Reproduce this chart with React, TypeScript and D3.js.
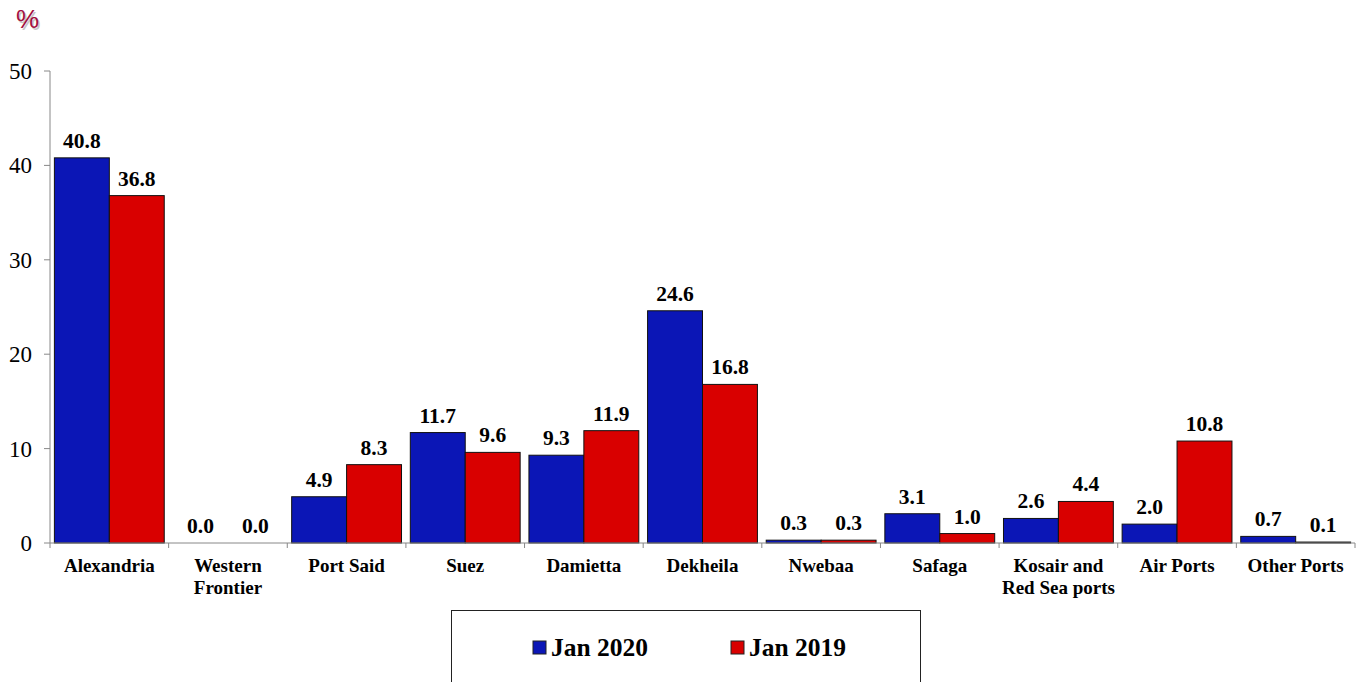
import React from "react";
import * as d3 from "d3";

const categories = [
  ["Alexandria"],
  ["Western", "Frontier"],
  ["Port Said"],
  ["Suez"],
  ["Damietta"],
  ["Dekheila"],
  ["Nwebaa"],
  ["Safaga"],
  ["Kosair and", "Red Sea ports"],
  ["Air Ports"],
  ["Other Ports"],
];
const jan2020 = [40.8, 0.0, 4.9, 11.7, 9.3, 24.6, 0.3, 3.1, 2.6, 2.0, 0.7];
const jan2019 = [36.8, 0.0, 8.3, 9.6, 11.9, 16.8, 0.3, 1.0, 4.4, 10.8, 0.1];
const seriesNames = ["Jan 2020", "Jan 2019"];
const seriesColors = ["#0B16B6", "#D90000"];
const yTicks = [0, 10, 20, 30, 40, 50];

const W = 1363;
const H = 682;
const left = 50;
const right = 1355;
const top = 71;
const bottom = 543;
const serif = "'Liberation Serif', 'Times New Roman', serif";

export default function App() {
  const keys = categories.map((c) => c.join(" "));
  const x = d3.scaleBand<string>().domain(keys).range([left, right]).paddingInner(0).paddingOuter(0);
  const sub = d3
    .scaleBand<string>()
    .domain(seriesNames)
    .range([0, x.bandwidth()])
    .paddingInner(0)
    .paddingOuter(0.08);
  const y = d3.scaleLinear().domain([0, 50]).range([bottom, top]);
  const data = [jan2020, jan2019];

  const boundaries = d3.range(keys.length + 1).map((i) => left + i * x.step());

  return (
    <svg
      width={W}
      height={H}
      style={{ position: "absolute", left: 0, top: 0, display: "block", background: "#fff" }}
    >
      {/* percent sign */}
      <text x={17.5} y={29.5} fontFamily="Arial, 'Liberation Sans', sans-serif" fontSize={26} fill="#c8c8c8">
        %
      </text>
      <text x={16} y={28} fontFamily="Arial, 'Liberation Sans', sans-serif" fontSize={26} fill="#A3103F">
        %
      </text>

      {/* y axis */}
      <line x1={left} x2={left} y1={top} y2={bottom} stroke="#888" strokeWidth={1} />
      {yTicks.map((t) => (
        <g key={t}>
          <line x1={left - 6} x2={left} y1={y(t)} y2={y(t)} stroke="#888" />
          <text
            x={32}
            y={y(t)}
            dy="0.35em"
            textAnchor="end"
            fontFamily={serif}
            fontSize={23}
            fill="#000"
          >
            {t}
          </text>
        </g>
      ))}

      {/* bars */}
      {keys.map((k, i) =>
        seriesNames.map((s, j) => {
          const v = data[j][i];
          const bx = (x(k) as number) + (sub(s) as number);
          const by = y(v);
          return (
            <g key={k + s}>
              <rect
                x={bx}
                y={by}
                width={sub.bandwidth()}
                height={Math.max(0, bottom - by)}
                fill={seriesColors[j]}
                stroke="#111"
                strokeWidth={1}
              />
              <text
                x={bx + sub.bandwidth() / 2}
                y={by - 10}
                textAnchor="middle"
                fontFamily={serif}
                fontWeight="bold"
                fontSize={21.5}
                fill="#000"
              >
                {v.toFixed(1)}
              </text>
            </g>
          );
        })
      )}

      {/* x axis */}
      <line x1={left} x2={right} y1={bottom} y2={bottom} stroke="#888" strokeWidth={1} />
      {boundaries.map((bx, i) => (
        <line key={i} x1={bx} x2={bx} y1={bottom} y2={bottom + 5} stroke="#888" />
      ))}
      {categories.map((lines, i) => (
        <text
          key={i}
          x={(x(keys[i]) as number) + x.bandwidth() / 2}
          y={572}
          textAnchor="middle"
          fontFamily={serif}
          fontWeight="bold"
          fontSize={19}
          fill="#000"
        >
          {lines.map((l, li) => (
            <tspan key={li} x={(x(keys[i]) as number) + x.bandwidth() / 2} dy={li === 0 ? 0 : 22}>
              {l}
            </tspan>
          ))}
        </text>
      ))}

      {/* legend */}
      <rect x={451.5} y={610.5} width={469} height={90} fill="#fff" stroke="#222" strokeWidth={1} />
      {seriesNames.map((s, j) => {
        const lx = [533, 731][j];
        return (
          <g key={s}>
            <rect x={lx} y={641} width={13} height={13} fill={seriesColors[j]} stroke="#222" strokeWidth={1} />
            <text x={lx + 18} y={656} fontFamily={serif} fontWeight="bold" fontSize={25.5} fill="#000">
              {s}
            </text>
          </g>
        );
      })}
    </svg>
  );
}
